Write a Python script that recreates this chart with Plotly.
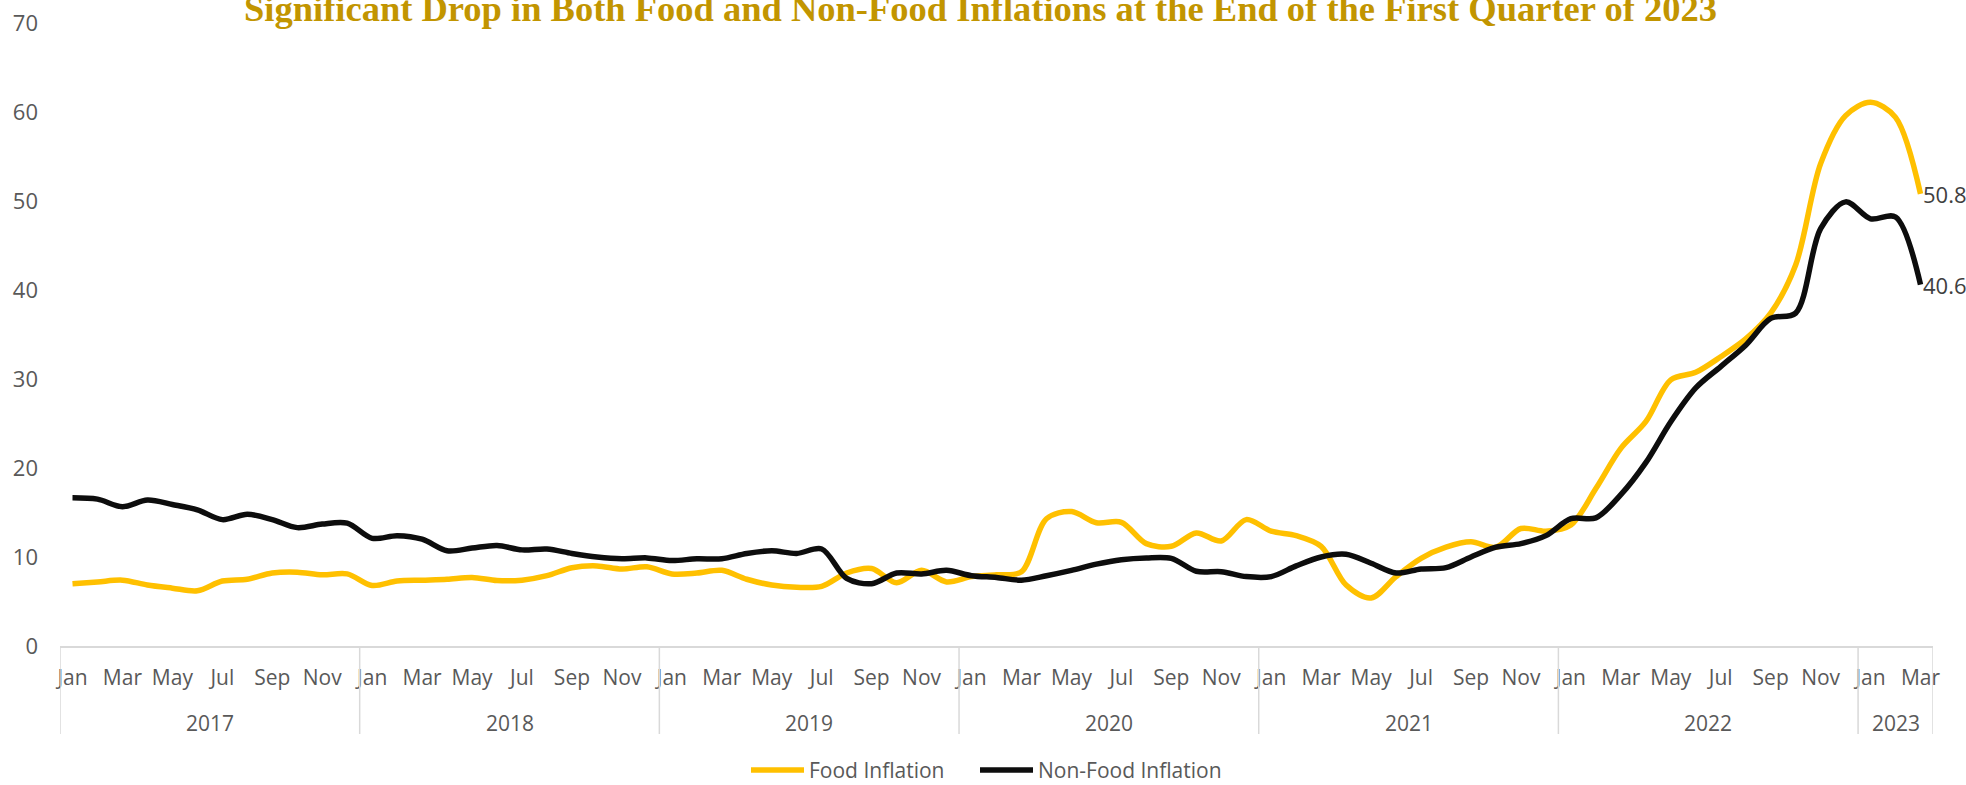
import plotly.graph_objects as go

# Monthly inflation rates (%), Jan 2017 - Mar 2023
years = ["2017", "2018", "2019", "2020", "2021", "2022", "2023"]
month_names = ["Jan", "Feb", "Mar", "Apr", "May", "Jun",
               "Jul", "Aug", "Sep", "Oct", "Nov", "Dec"]
months_in_year = [12, 12, 12, 12, 12, 12, 3]

food_inflation = [
    7.0, 7.2, 7.4, 6.85, 6.5, 6.2, 7.3, 7.5, 8.2, 8.3, 8.0, 8.1,
    6.8, 7.3, 7.4, 7.5, 7.7, 7.35, 7.4, 7.9, 8.8, 9.0, 8.65, 8.9,
    8.1, 8.2, 8.5, 7.5, 6.85, 6.6, 6.7, 8.2, 8.7, 7.1, 8.5, 7.2,
    7.8, 8.0, 8.35, 14.3, 15.1, 13.85, 13.9, 11.5, 11.2, 12.7, 11.8, 14.2,
    12.9, 12.4, 11.2, 6.85, 5.4, 7.8, 9.85, 11.1, 11.7, 11.1, 13.2, 12.9,
    13.6, 17.7, 22.2, 25.2, 29.9, 30.75, 32.5, 34.5, 37.4, 42.8, 54.2, 59.6,
    61.1, 59.4, 50.8,
]
non_food_inflation = [
    16.66, 16.5, 15.65, 16.4, 15.9, 15.3, 14.2, 14.8, 14.2, 13.3, 13.7, 13.8,
    12.1, 12.4, 12.0, 10.7, 11.0, 11.3, 10.8, 10.9, 10.4, 10.0, 9.8, 9.9,
    9.6, 9.8, 9.8, 10.4, 10.7, 10.4, 10.9, 7.6, 7.0, 8.2, 8.1, 8.5,
    7.9, 7.7, 7.4, 7.9, 8.5, 9.2, 9.7, 9.9, 9.85, 8.4, 8.35, 7.8,
    7.8, 9.0, 10.0, 10.3, 9.3, 8.2, 8.65, 8.8, 10.0, 11.1, 11.5, 12.4,
    14.3, 14.4, 17.0, 20.6, 25.2, 29.0, 31.4, 33.8, 36.8, 37.4, 46.9, 49.9,
    48.0, 48.2, 40.6,
]
series_names = ["Food Inflation", "Non-Food Inflation"]

# Category labels "Mon YYYY"
categories = []
month_labels = []
for y, n in zip(years, months_in_year):
    for m in month_names[:n]:
        categories.append(f"{m} {y}")
        month_labels.append(m)

shown_months = {"Jan", "Mar", "May", "Jul", "Sep", "Nov"}
tick_vals = [c for c, m in zip(categories, month_labels) if m in shown_months]
tick_text = [m for m in month_labels if m in shown_months]

FONT = "Open Sans"
FS = 21
GREY = "#595959"
GOLD = "#FFC000"
BLACK = "#0D0D0D"
DIVIDER = "#D9D9D9"
W, H = 1966, 785
M_L, M_R, M_T, M_B = 60, 33, 23, 139
plot_w = W - M_L - M_R
plot_h = H - M_T - M_B
axis_px = H - M_B  # pixel row of the x axis line


def px_to_paper_y(py):
    return (axis_px - py) / plot_h


def px_to_paper_x(px):
    return (px - M_L) / plot_w


fig = go.Figure()
shapes = []
annotations = []

series = [(series_names[0], food_inflation, GOLD),
          (series_names[1], non_food_inflation, BLACK)]
for name, values, color in series:
    fig.add_trace(go.Scatter(
        x=categories, y=values, name=name, mode="lines",
        line=dict(color=color, width=5.5, shape="spline", smoothing=0.9),
        cliponaxis=False, showlegend=False,
    ))
    # value label at the latest month
    annotations.append(dict(
        x=categories[-1], y=values[-1], xref="x", yref="y",
        text=f"{values[-1]:.1f}", showarrow=False,
        xanchor="left", yanchor="middle", yshift=0,
        font=dict(family=FONT, size=22, color="#404040"),
    ))

# Year group dividers and labels under the month ticks
start = 0
bounds = [0]
for y, n in zip(years, months_in_year):
    annotations.append(dict(
        x=start + (n - 1) / 2, y=px_to_paper_y(723), xref="x", yref="paper",
        text=y, showarrow=False, yanchor="middle",
        font=dict(family=FONT, size=FS, color=GREY),
    ))
    start += n
    bounds.append(start)
for b in bounds:
    shapes.append(dict(
        type="line", xref="x", yref="paper",
        x0=b - 0.5, x1=b - 0.5, y0=0, y1=px_to_paper_y(734),
        line=dict(color=DIVIDER, width=1.5),
    ))

# Legend row: line swatch followed by series name
legend_row = 770
for (name, _, color), x0 in zip(series, [751, 980]):
    shapes.append(dict(
        type="line", xref="paper", yref="paper",
        x0=px_to_paper_x(x0), x1=px_to_paper_x(x0 + 53),
        y0=px_to_paper_y(legend_row), y1=px_to_paper_y(legend_row),
        line=dict(color=color, width=5.5),
    ))
    annotations.append(dict(
        x=px_to_paper_x(x0 + 56), xref="paper",
        y=px_to_paper_y(legend_row), yref="paper",
        text=name, showarrow=False, xanchor="left", yanchor="middle",
        font=dict(family=FONT, size=FS, color=GREY),
    ))

annotations.append(dict(
    x=px_to_paper_x(980.5), xref="paper", y=px_to_paper_y(8), yref="paper",
    text="<b>Significant Drop in Both Food and Non-Food Inflations at the End of the First Quarter of 2023</b>",
    showarrow=False, yanchor="middle", xanchor="center",
    font=dict(family="Liberation Serif", size=36.5, color="#C29500"),
))

fig.update_layout(
    width=W, height=H,
    margin=dict(l=M_L, r=M_R, t=M_T, b=M_B, autoexpand=False),
    plot_bgcolor="white", paper_bgcolor="white",
    showlegend=False,
    shapes=shapes,
    annotations=annotations,
)
fig.update_xaxes(
    type="category", range=[-0.5, len(categories) - 0.5],
    tickvals=tick_vals, ticktext=tick_text,
    tickfont=dict(family=FONT, size=FS, color=GREY),
    showgrid=False, showline=True, linecolor=DIVIDER, linewidth=1.5,
    ticks="", ticklabelstandoff=12, zeroline=False,
)
fig.update_yaxes(
    range=[0, 70], dtick=10,
    tickfont=dict(family=FONT, size=22, color=GREY),
    showgrid=False, showline=False, zeroline=False,
    ticks="", ticklabelstandoff=21,
)

fig.write_html("out.html")
